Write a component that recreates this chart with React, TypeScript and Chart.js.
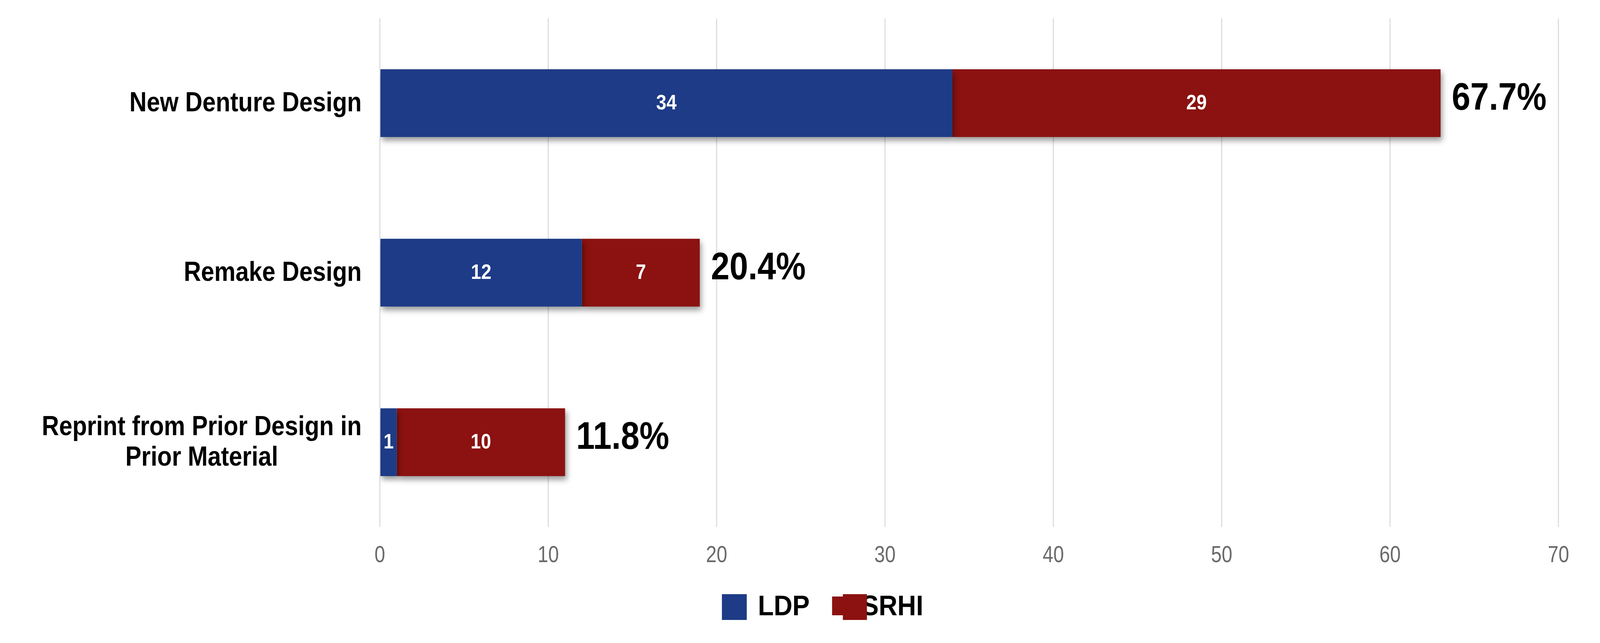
import { useEffect, useRef } from 'react';
import { Chart, registerables, Plugin } from 'chart.js';

Chart.register(...registerables);

// data
const categories = [
  ['New Denture Design'],
  ['Remake Design'],
  ['Reprint from Prior Design in', 'Prior Material'],
];
const seriesNames = ['LDP', 'SRHI'];
const ldpCounts = [34, 12, 1];
const srhiCounts = [29, 7, 10];
const xMax = 70;
const xStep = 10;

const BLUE = '#1d3b86';
const RED = '#8b1210';
const SANS = '"Liberation Sans", Arial, sans-serif';

// the page may be narrower than the 4313px design, so horizontal sizes follow it
const REF_W = 4313;
const kx = () => window.innerWidth / REF_W;

const grandTotal = [...ldpCounts, ...srhiCounts].reduce((a, b) => a + b, 0);

// draws text squeezed horizontally (the original uses a narrow face)
function drawText(
  ctx: CanvasRenderingContext2D,
  text: string,
  x: number,
  y: number,
  align: 'left' | 'center' | 'right',
  sx: number,
) {
  const w = ctx.measureText(text).width * sx;
  const left = align === 'left' ? x : align === 'right' ? x - w : x - w / 2;
  ctx.save();
  ctx.translate(left, y);
  ctx.scale(sx, 1);
  ctx.textAlign = 'left';
  ctx.fillText(text, 0, 0);
  ctx.restore();
}

const barShadow: Plugin<'bar'> = {
  id: 'barShadow',
  beforeDatasetsDraw(chart) {
    const ctx = chart.ctx;
    ctx.save();
    ctx.shadowColor = 'rgba(0, 0, 0, 0.4)';
    ctx.shadowBlur = 14;
    ctx.shadowOffsetX = 4;
    ctx.shadowOffsetY = 9;
  },
  afterDatasetsDraw(chart) {
    chart.ctx.restore();
  },
};

const barLabels: Plugin<'bar'> = {
  id: 'barLabels',
  afterDatasetsDraw(chart) {
    const { ctx } = chart;
    const k = kx();
    ctx.save();
    ctx.textBaseline = 'alphabetic';
    ctx.fillStyle = '#ffffff';
    ctx.font = `bold 54px ${SANS}`;
    chart.data.datasets.forEach((ds, di) => {
      const meta = chart.getDatasetMeta(di);
      meta.data.forEach((bar: any, i) => {
        const v = ds.data[i] as number;
        if (!v) return;
        drawText(ctx, String(v), (bar.x + bar.base) / 2, bar.y + 16, 'center', 0.92 * k);
      });
    });

    // share of all answers at the end of each stack
    ctx.fillStyle = '#000000';
    ctx.font = `bold 98px ${SANS}`;
    const last = chart.getDatasetMeta(chart.data.datasets.length - 1);
    last.data.forEach((bar: any, i) => {
      const total = ldpCounts[i] + srhiCounts[i];
      const pct = ((total / grandTotal) * 100).toFixed(1) + '%';
      drawText(ctx, pct, bar.x + 30 * k, bar.y + 17, 'left', 0.92 * k);
    });
    ctx.restore();
  },
};

const axisLabels: Plugin<'bar'> = {
  id: 'axisLabels',
  afterDraw(chart) {
    const { ctx, chartArea } = chart;
    const yScale = chart.scales.y;
    const xScale = chart.scales.x;
    const k = kx();
    ctx.save();
    ctx.textBaseline = 'alphabetic';

    // category labels, block right aligned, lines centred within the block
    ctx.font = `bold 70px ${SANS}`;
    ctx.fillStyle = '#000000';
    const lineHeight = 78;
    categories.forEach((lines, i) => {
      const cy = yScale.getPixelForValue(i);
      const w = Math.max(...lines.map(l => ctx.measureText(l).width)) * 0.92 * k;
      const cx = chartArea.left - 49 * k - w / 2;
      lines.forEach((line, j) => {
        const base = cy + 21 + (j - (lines.length - 1) / 2) * lineHeight;
        drawText(ctx, line, cx, base, 'center', 0.92 * k);
      });
    });

    // x tick labels
    ctx.font = `60px ${SANS}`;
    ctx.fillStyle = '#6b6b6b';
    xScale.ticks.forEach(t => {
      drawText(ctx, String(t.value), xScale.getPixelForValue(t.value), chartArea.bottom + 90, 'center', 0.86 * k);
    });

    // legend (positions taken from the original, canvas starts 8px in)
    const px = (v: number) => v * k - 8;
    const top = 1513;
    ctx.fillStyle = BLUE;
    ctx.fillRect(px(1946), top, 67 * k, 66);
    ctx.fillStyle = '#000000';
    ctx.font = `bold 72px ${SANS}`;
    drawText(ctx, seriesNames[0], px(2043), top + 54, 'left', 0.97 * k);
    drawText(ctx, seriesNames[1], px(2322), top + 54, 'left', 0.97 * k);
    ctx.fillStyle = RED;
    ctx.fillRect(px(2243), top + 6, 30 * k, 48);
    ctx.fillRect(px(2272), top, 65 * k, 66);
    ctx.restore();
  },
};

export default function App() {
  const chartRef = useRef<HTMLCanvasElement>(null);
  const chartInstance = useRef<Chart>();

  useEffect(() => {
    if (!chartRef.current) return;
    const ctx = chartRef.current.getContext('2d');
    if (!ctx) return;

    if (chartInstance.current) {
      chartInstance.current.destroy();
    }

    const k = kx();
    const axisLeft = 1024 * k - 8;
    const axisRight = 4201 * k - 8;

    chartInstance.current = new Chart(ctx, {
      type: 'bar',
      data: {
        labels: categories.map(l => l.join(' ')),
        datasets: [
          {
            label: seriesNames[0],
            data: ldpCounts,
            backgroundColor: BLUE,
            barPercentage: 0.4,
            categoryPercentage: 1,
          },
          {
            label: seriesNames[1],
            data: srhiCounts,
            backgroundColor: RED,
            barPercentage: 0.4,
            categoryPercentage: 1,
          },
        ],
      },
      options: {
        indexAxis: 'y',
        animation: false,
        responsive: true,
        maintainAspectRatio: false,
        layout: {
          padding: {
            top: 39,
            left: 0,
            right: Math.max(0, chartRef.current.parentElement!.clientWidth - axisRight),
            bottom: 189,
          },
        },
        scales: {
          x: {
            stacked: true,
            min: 0,
            max: xMax,
            border: { display: false },
            grid: { color: '#dedede', lineWidth: 3, drawTicks: false },
            ticks: { stepSize: xStep, display: false },
            afterFit(scale) {
              scale.height = 100;
            },
          },
          y: {
            stacked: true,
            border: { display: false },
            grid: { display: false },
            ticks: { display: false },
            afterFit(scale) {
              scale.width = axisLeft;
            },
          },
        },
        plugins: {
          legend: { display: false },
          tooltip: { enabled: false },
        },
      },
      plugins: [barShadow, barLabels, axisLabels],
    });

    return () => {
      chartInstance.current?.destroy();
    };
  }, []);

  return (
    <div style={{ position: 'relative', width: '100%', height: '1630px' }}>
      <canvas ref={chartRef} />
    </div>
  );
}
